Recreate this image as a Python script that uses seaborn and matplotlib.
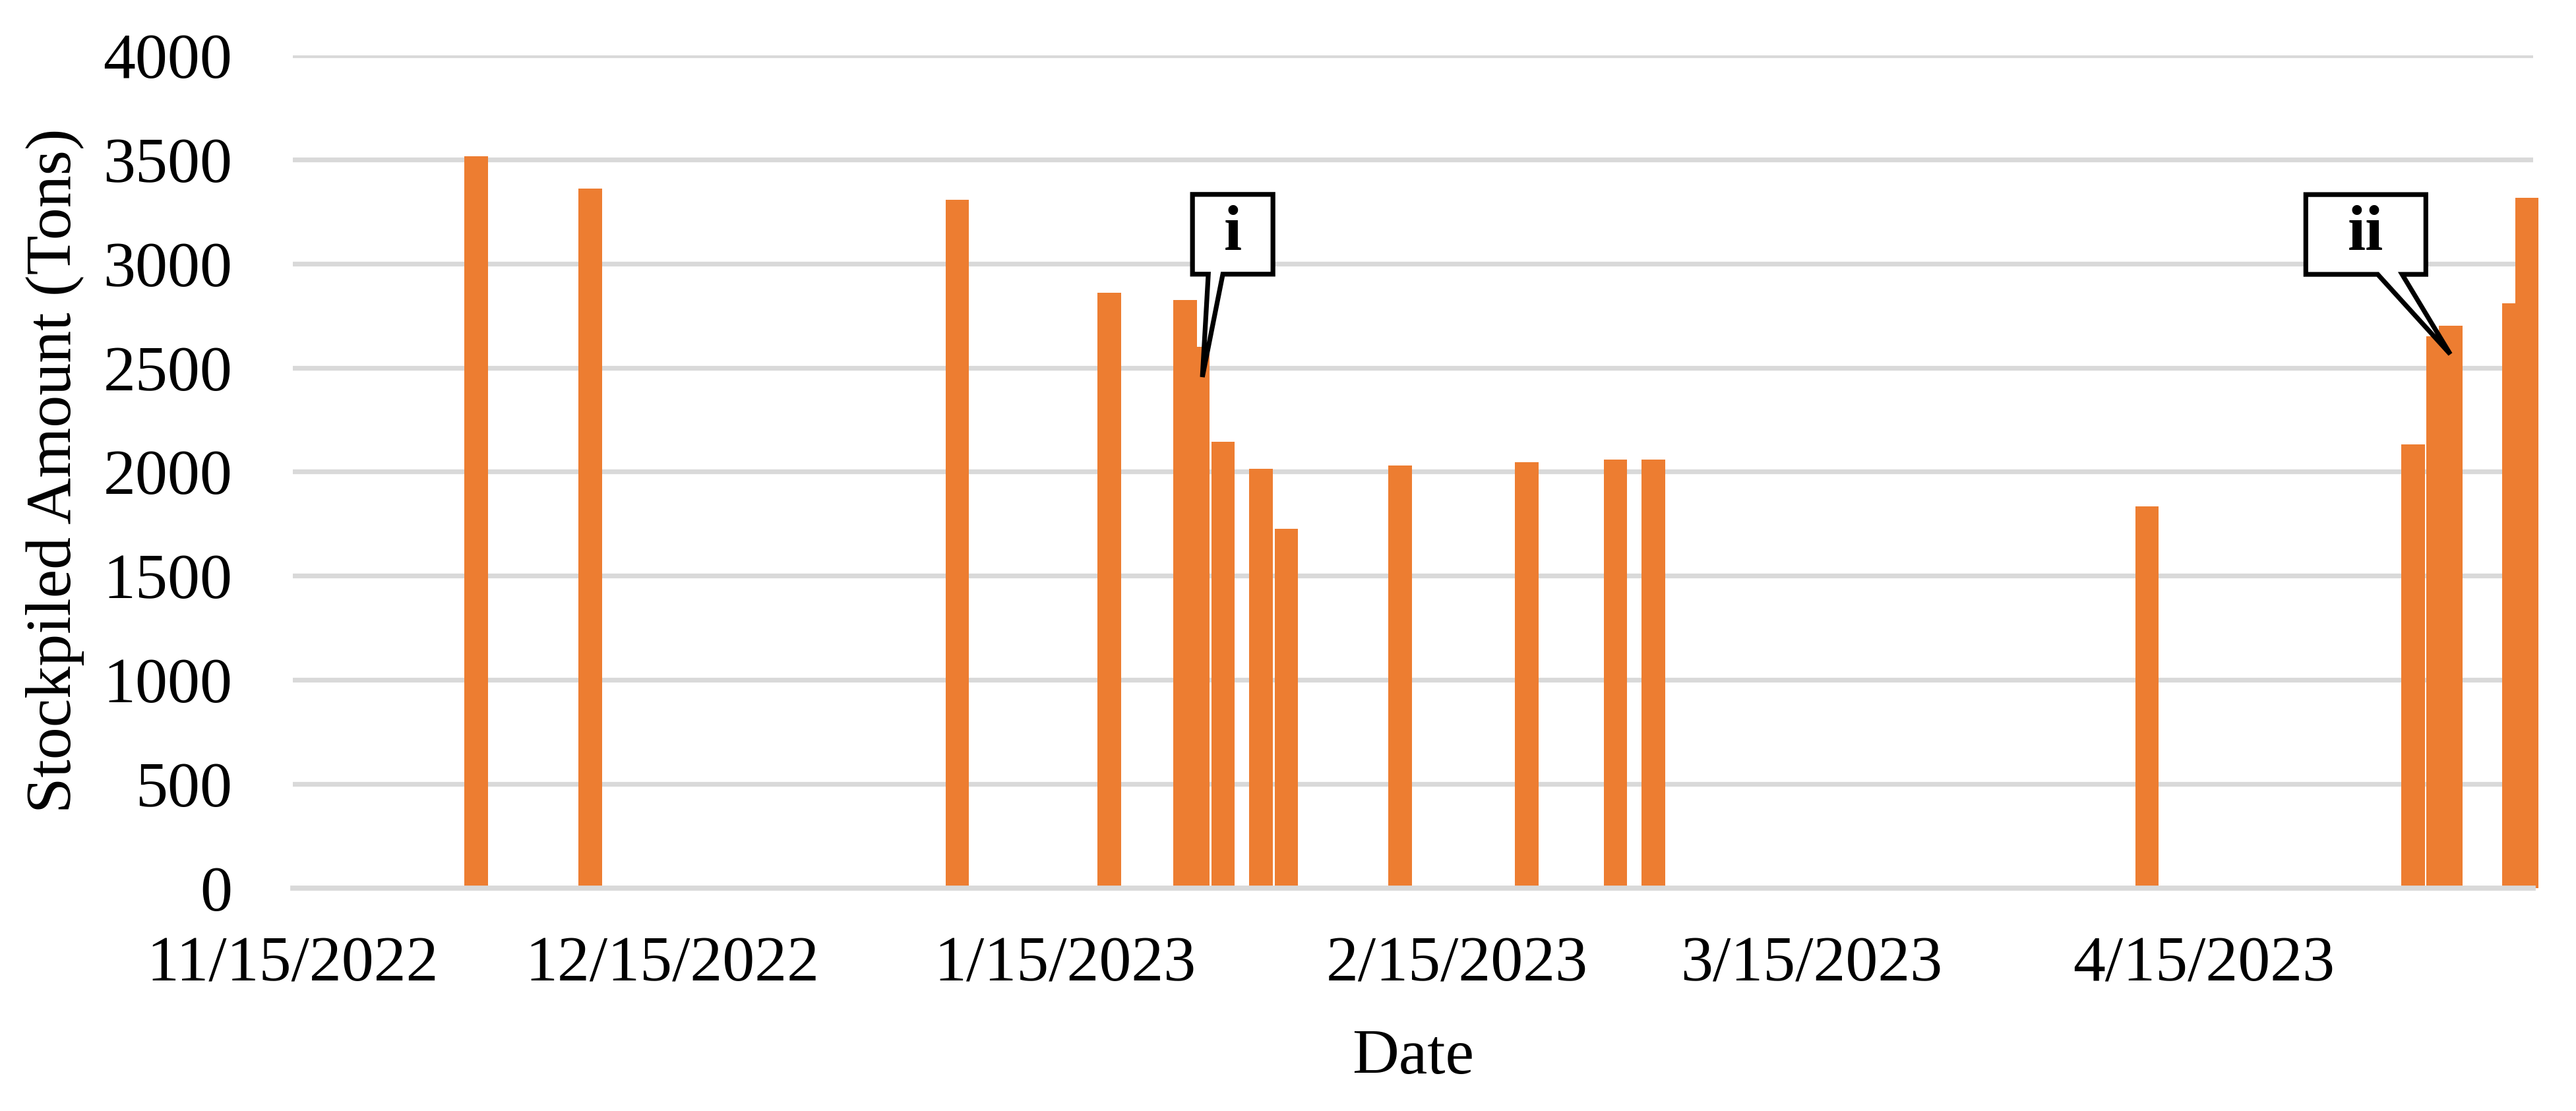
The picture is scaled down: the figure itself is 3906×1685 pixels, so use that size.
import numpy as np
import pandas as pd
import matplotlib
matplotlib.use("Agg")
import matplotlib.pyplot as plt
import matplotlib.dates as mdates
from matplotlib.patches import Polygon
from matplotlib.transforms import Affine2D
import seaborn as sns

# stockpile records
dates = ["2022-11-29", "2022-12-08", "2023-01-06", "2023-01-18", "2023-01-24",
         "2023-01-25", "2023-01-27", "2023-01-30", "2023-02-01", "2023-02-10",
         "2023-02-20", "2023-02-27", "2023-03-02", "2023-04-10", "2023-05-01",
         "2023-05-03", "2023-05-04", "2023-05-09", "2023-05-10"]
amounts = [3515, 3360, 3305, 2860, 2825, 2600, 2145, 2015, 1725, 2030,
           2045, 2060, 2060, 1835, 2130, 2650, 2700, 2810, 3315]

tick_dates = ["2022-11-15", "2022-12-15", "2023-01-15", "2023-02-15", "2023-03-15", "2023-04-15"]
tick_labels = ["11/15/2022", "12/15/2022", "1/15/2023", "2/15/2023", "3/15/2023", "4/15/2023"]
x_start, x_end = "2022-11-15", "2023-05-11"
y_ticks = list(range(0, 4001, 500))

callout_labels = ["i", "ii"]
callout_dates = ["2023-01-25 20:40", "2023-05-04 10:50"]
callout_values = [2455, 2565]
# box (x0, x1, y0, y1) and wedge base (b0, b1), in pixels relative to the tip
callout_boxes = [(-15, 107, 156, 277), (-219, -37, 121, 242)]
callout_bases = [(9, 31), (-110, -73)]

orange = "#ED7D31"
grey = "#D9D9D9"
fs = 35.3

sns.set_theme(style="white")
plt.rcParams["font.family"] = ["Liberation Serif", "DejaVu Serif"]

df = pd.DataFrame({"date": pd.to_datetime(dates), "amount": amounts})
# Excel date axis: bars sit in the middle of their day
df["x"] = mdates.date2num(df["date"]) + 0.5

fig = plt.figure(figsize=(3906 / 200, 1685 / 200), dpi=200)
ax = fig.add_axes([444 / 3906, 1 - 1347 / 1685, (3841 - 444) / 3906, (1347 - 84) / 1685])

sns.barplot(data=df, x="x", y="amount", native_scale=True, width=1.86, color=orange,
            saturation=1, errorbar=None, linewidth=0, ax=ax)
for p in ax.patches:
    p.set_clip_on(False)

ax.set_xlim(mdates.date2num(pd.Timestamp(x_start)), mdates.date2num(pd.Timestamp(x_end)))
ax.set_ylim(0, 4000)
ax.set_xticks(mdates.date2num(pd.to_datetime(tick_dates)))
ax.set_xticklabels(tick_labels)
ax.set_yticks(y_ticks)
ax.set_yticklabels([str(v) for v in y_ticks])

ax.yaxis.grid(True, color=grey, lw=2.6)
ax.xaxis.grid(False)
ax.set_axisbelow(True)
for side in ["top", "right", "left"]:
    ax.spines[side].set_visible(False)
ax.spines["bottom"].set_color(grey)
ax.spines["bottom"].set_linewidth(2.8)

ax.tick_params(axis="x", length=10, width=2.2, color=grey, pad=16, labelsize=fs, labelcolor="black")
ax.tick_params(axis="y", length=0, pad=33, labelsize=fs, labelcolor="black")

ax.set_xlabel("Date", fontsize=fs, color="black")
ax.set_ylabel("Stockpiled Amount (Tons)", fontsize=fs, color="black")
ax.xaxis.set_label_coords(0.5, -0.169)
ax.yaxis.set_label_coords(-0.093, 0.501)

# callouts
for lab, cd, cv, box, base in zip(callout_labels, callout_dates, callout_values,
                                  callout_boxes, callout_bases):
    tip = ax.transData.transform((mdates.date2num(pd.Timestamp(cd)), cv))
    tr = Affine2D().translate(*tip)
    x0, x1, y0, y1 = box
    b0, b1 = base
    pts = [(x0, y0), (x0, y1), (x1, y1), (x1, y0), (b1, y0), (0, 0), (b0, y0)]
    poly = Polygon(pts, closed=True, facecolor="white", edgecolor="black", lw=2.6,
                   joinstyle="miter", transform=tr, zorder=5)
    fig.add_artist(poly)
    fig.text((x0 + x1) / 2, (y0 + y1) / 2, lab, transform=tr, ha="center", va="center",
             fontsize=fs, fontweight="bold", color="black", zorder=6)

fig.savefig("out.png", dpi=200)
